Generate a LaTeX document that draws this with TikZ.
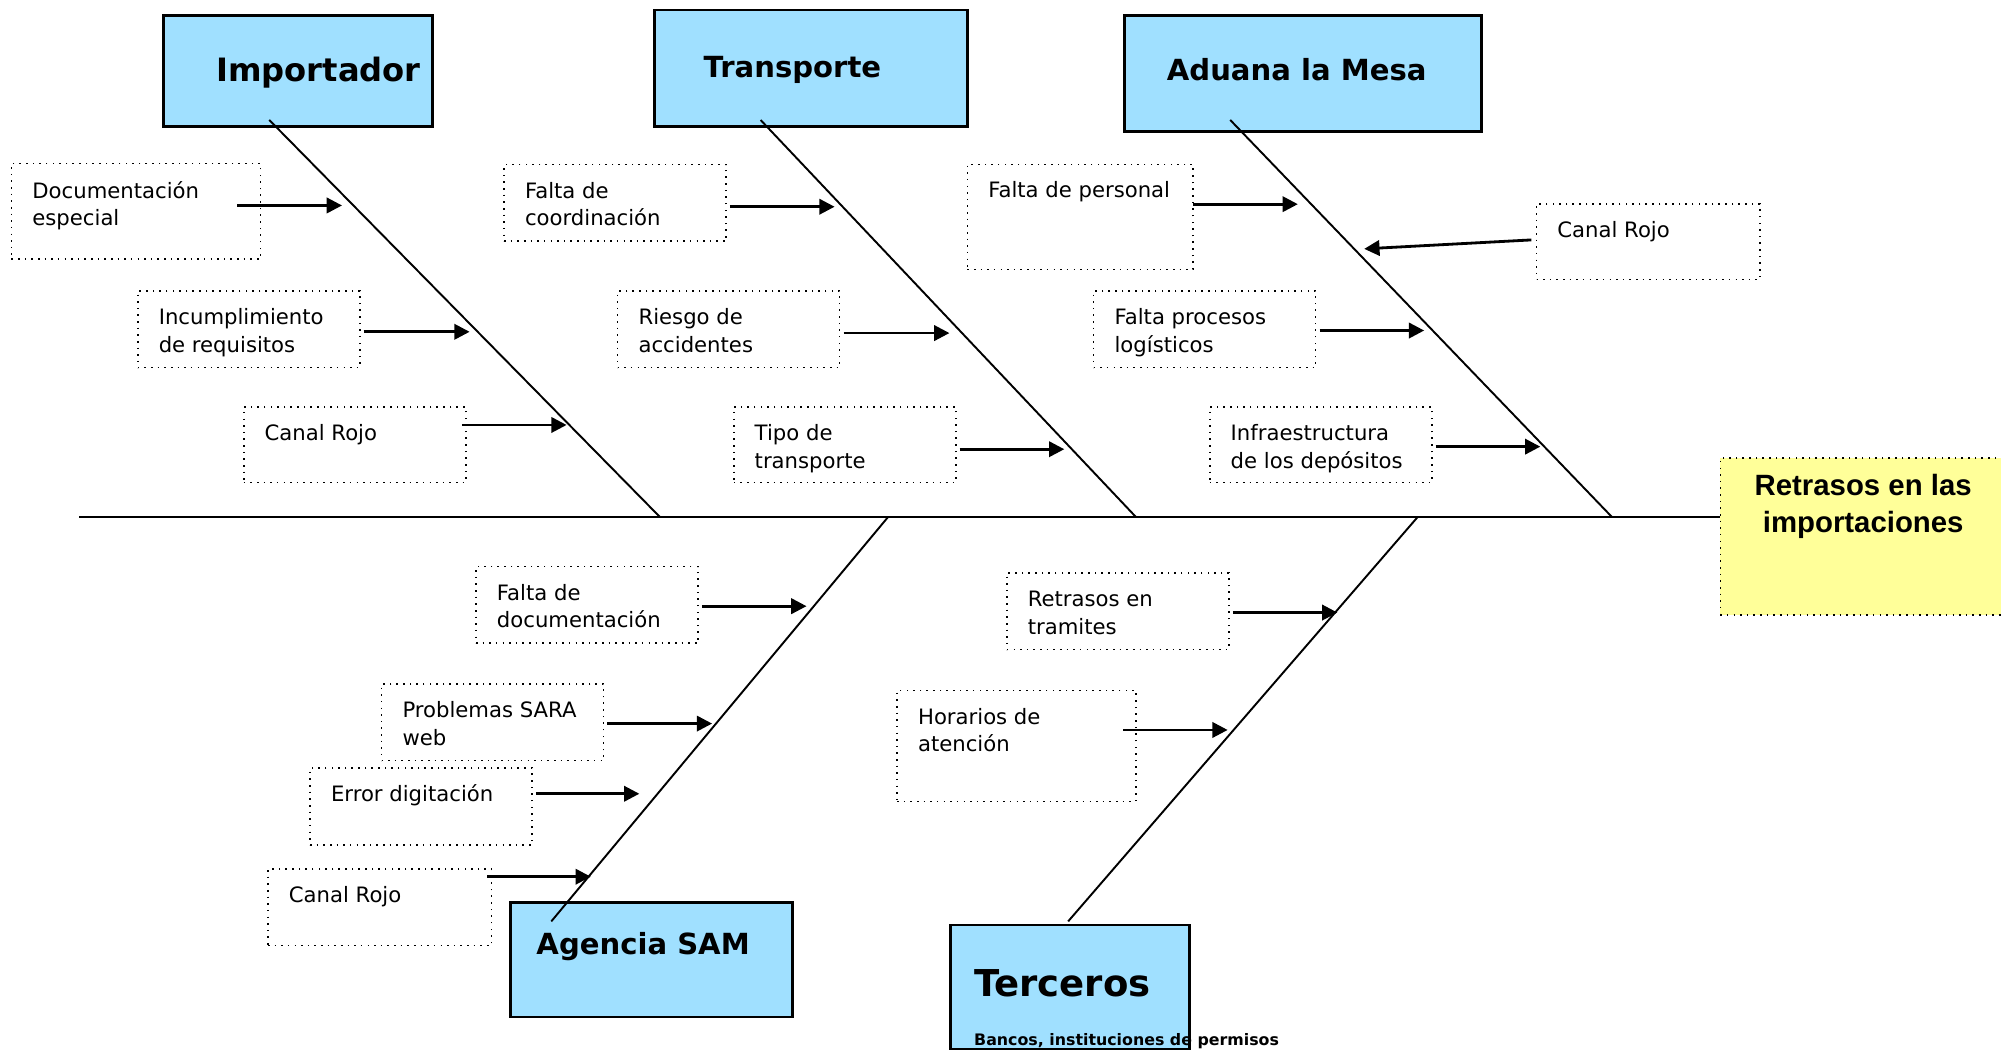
\documentclass[tikz,border=0pt]{standalone}
\usepackage{fontspec}
\setmainfont{DejaVu Sans}
\newfontfamily\arialfont{Liberation Sans}
\usetikzlibrary{fit,arrows.meta}
\definecolor{catblue}{HTML}{A0E0FF}
\definecolor{effyellow}{HTML}{FFFF99}
\begin{document}
\begin{tikzpicture}[x=0.5pt,y=-0.5pt,
  catbox/.style={draw=black, line width=1pt, fill=catblue, inner sep=0pt},
  causebox/.style={draw=black, dotted, line width=0.6pt, fill=white, inner sep=0pt},
  effbox/.style={draw=black, dotted, line width=0.6pt, fill=effyellow, inner sep=0pt},
  cattext/.style={anchor=base west, inner sep=0pt, font=\bfseries\fontsize{11.4}{14}\selectfont},
  causetext/.style={anchor=base west, inner sep=0pt, align=left, font=\fontsize{8.3}{10.8}\selectfont},
  bone/.style={line width=0.75pt},
  causearrow/.style={line width=1.1pt, -{Triangle[length=6pt,width=6pt]}}]
\useasboundingbox (0,0) rectangle (1568,824);
\begin{scope}
\clip (0,0) rectangle (1568,824);
% effect
\node[effbox, fit={(1348,359)(1600,482)}] (eff) {};
\end{scope}
\node[anchor=base, inner sep=0pt, align=center, font=\arialfont\bfseries\fontsize{11.5}{14.2}\selectfont] (efftext) at (1460,417) {Retrasos en las\\importaciones};
% spine
\coordinate (tail) at (62,405);
\draw[line width=1pt] (tail) -- (eff.west |- tail);
% category boxes
\node[catbox, fit={(128,12)(339,99)}] (imp) {};
\node[catbox, fit={(513,8)(758,99)}] (tra) {};
\node[catbox, fit={(881,12)(1161,103)}] (adu) {};
\node[catbox, fit={(400,707)(621,797)}] (age) {};
\node[catbox, fit={(745,725)(932,822)}] (ter) {};
\node[cattext, font=\bfseries\fontsize{12.6}{15}\selectfont] (impT) at (169,64) {Importador};
\node[cattext] (traT) at (551,61) {Transporte};
\node[cattext] (aduT) at (914,63) {Aduana la Mesa};
\node[cattext] (ageT) at (420,748) {Agencia SAM};
\node[cattext, font=\bfseries\fontsize{14.5}{17}\selectfont] (terT) at (763,781) {Terceros};
\node[anchor=base west, inner sep=0pt, font=\bfseries\fontsize{6.2}{8}\selectfont] (terS) at (763,819) {Bancos, instituciones de permisos};
% bones
\coordinate (impA) at (211,94);   \coordinate (impB) at (517,405);
\coordinate (traA) at (596,94);   \coordinate (traB) at (890,405);
\coordinate (aduA) at (964,94);   \coordinate (aduB) at (1263,405);
\coordinate (ageA) at (696,405);  \coordinate (ageB) at (432,722);
\coordinate (terA) at (1111,405); \coordinate (terB) at (837,722);
\draw[bone] (impA) -- (impB);
\draw[bone] (traA) -- (traB);
\draw[bone] (aduA) -- (aduB);
\draw[bone] (ageA) -- (ageB);
\draw[bone] (terA) -- (terB);
% cause boxes
\node[causebox, fit={(9,128)(204,203)}] (c1) {};
\node[causebox, fit={(108,228)(282,288)}] (c2) {};
\node[causebox, fit={(191,319)(365,378)}] (c3) {};
\node[causebox, fit={(395,129)(569,189)}] (c4) {};
\node[causebox, fit={(484,228)(658,288)}] (c5) {};
\node[causebox, fit={(575,319)(749,378)}] (c6) {};
\node[causebox, fit={(758,129)(935,211)}] (c7) {};
\node[causebox, fit={(1204,160)(1379,219)}] (c8) {};
\node[causebox, fit={(857,228)(1031,288)}] (c9) {};
\node[causebox, fit={(948,319)(1122,378)}] (c10) {};
\node[causebox, fit={(373,444)(547,504)}] (c11) {};
\node[causebox, fit={(299,536)(473,596)}] (c12) {};
\node[causebox, fit={(243,602)(417,662)}] (c13) {};
\node[causebox, fit={(210,681)(385,741)}] (c14) {};
\node[causebox, fit={(789,449)(963,509)}] (c15) {};
\node[causebox, fit={(703,541)(890,628)}] (c16) {};
% two-line texts are anchored at the baseline of their last line
\node[causetext] (t1) at (25,177) {Documentación\\especial};
\node[causetext] (t2) at (124,276) {Incumplimiento\\de requisitos};
\node[causetext] (t3) at (207,345) {Canal Rojo};
\node[causetext] (t4) at (411,177) {Falta de\\coordinación};
\node[causetext] (t5) at (500,276) {Riesgo de\\accidentes};
\node[causetext] (t6) at (591,367) {Tipo de\\transporte};
\node[causetext] (t7) at (774,155) {Falta de personal};
\node[causetext] (t8) at (1220,186) {Canal Rojo};
\node[causetext] (t9) at (873,276) {Falta procesos\\logísticos};
\node[causetext] (t10) at (964,367) {Infraestructura\\de los depósitos};
\node[causetext] (t11) at (389,492) {Falta de\\documentación};
\node[causetext] (t12) at (315,584) {Problemas SARA\\web};
\node[causetext] (t13) at (259,628) {Error digitación};
\node[causetext] (t14) at (226,707) {Canal Rojo};
\node[causetext] (t15) at (805,497) {Retrasos en\\tramites};
\node[causetext] (t16) at (719,589) {Horarios de\\atención};
% arrows
\coordinate (a1s) at (186,161);  \coordinate (a1e) at (268,161);
\coordinate (a2s) at (285,260);  \coordinate (a2e) at (368,260);
\coordinate (a3s) at (362,333);  \coordinate (a3e) at (444,333);
\coordinate (a4s) at (572,162);  \coordinate (a4e) at (654,162);
\coordinate (a5s) at (661,261);  \coordinate (a5e) at (744,261);
\coordinate (a6s) at (752,352);  \coordinate (a6e) at (834,352);
\coordinate (a7s) at (935,160);  \coordinate (a7e) at (1017,160);
\coordinate (a8s) at (1200,188); \coordinate (a8e) at (1069,195);
\coordinate (a9s) at (1034,259); \coordinate (a9e) at (1116,259);
\coordinate (a10s) at (1125,350); \coordinate (a10e) at (1207,350);
\coordinate (a11s) at (550,475); \coordinate (a11e) at (632,475);
\coordinate (a12s) at (476,567); \coordinate (a12e) at (558,567);
\coordinate (a13s) at (420,622); \coordinate (a13e) at (501,622);
\coordinate (a14s) at (382,687); \coordinate (a14e) at (463,687);
\coordinate (a15s) at (966,480); \coordinate (a15e) at (1048,480);
\coordinate (a16s) at (880,572); \coordinate (a16e) at (962,572);
\foreach \i in {1,...,16} {\draw[causearrow] (a\i s) -- (a\i e);}
\end{tikzpicture}
\end{document}
